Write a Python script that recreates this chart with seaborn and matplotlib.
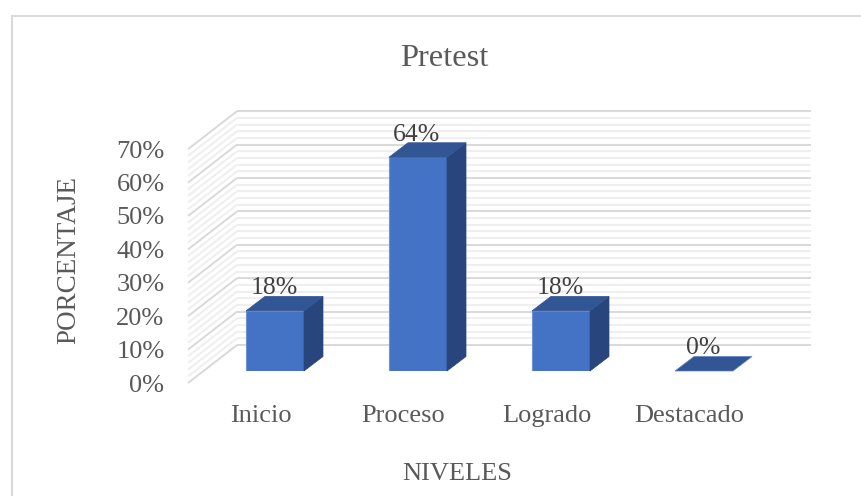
import matplotlib
matplotlib.use("Agg")
import matplotlib.pyplot as plt
from matplotlib.patches import Polygon, Rectangle
import pandas as pd
import seaborn as sns

categories = ["Inicio", "Proceso", "Logrado", "Destacado"]
values = [18, 64, 18, 0]
value_labels = ["18%", "64%", "18%", "0%"]
y_ticks = [0, 10, 20, 30, 40, 50, 60, 70]
minor_ticks = [v for v in range(0, 71, 2)]
title = "Pretest"
x_label = "NIVELES"
y_label = "PORCENTAJE"

W, H = 861, 496
FRONT, SIDE, TOP = "#4472C4", "#28457D", "#325594"
TXT = "#404040"
GREY = "#595959"
FS = 19
sns.set_theme(style="white")
plt.rcParams["font.family"] = ["Liberation Serif", "DejaVu Serif"]

fig = plt.figure(figsize=(W / 100, H / 100), dpi=100, facecolor="white")
L, R, B, T = 203.5, 775.5, 371, 137.2
ax = fig.add_axes([L / W, 1 - B / H, (R - L) / W, (B - T) / H])
df = pd.DataFrame({"n": categories, "v": values})

sx, sy = 143.0, 233.8 / 70          # pixels per category and per percent
def px(dx, dy):
    return dx / sx, dy / sy

# walls: back plane and left side, behind the bars
back = px(33.5, 26)
front = px(-15.5, -12)
for v in minor_ticks:
    major = v % 10 == 0
    col, lw, z = ("#D9D9D9", 1.4, 1.2) if major else ("#EFEFEF", 1.5, 1.1)
    ax.plot([-0.5 + back[0], 3.5 + back[0] + 2 / sx], [v + back[1]] * 2, color=col, lw=lw, zorder=z, clip_on=False, solid_capstyle="butt")
    ax.plot([-0.5 + front[0], -0.5 + back[0]], [v + front[1], v + back[1]], color=col, lw=lw, zorder=z, clip_on=False, solid_capstyle="butt")

sns.barplot(data=df, x="n", y="v", color=FRONT, saturation=1, width=58 / 143, ax=ax, zorder=3,
            edgecolor="#6F93D6", linewidth=0.8)
ax.set_xlim(-0.5, 3.5)
ax.set_ylim(0, 70)
ax.patch.set_alpha(0)
sns.despine(ax=ax, left=True, bottom=True)
ax.set_xlabel("")
ax.set_ylabel("")
ax.set_yticks([])
ax.set_xticks([])

hw = 29 / 143
d = px(19, 14.5)
for i, (v, lab) in enumerate(zip(values, value_labels)):
    l, r = i - hw, i + hw
    if v > 0:
        ax.add_patch(Polygon([(r, 0), (r + d[0], d[1]), (r + d[0], v + d[1]), (r, v)], fc=SIDE, ec=SIDE, lw=0.5, zorder=3, clip_on=False))
    ax.add_patch(Polygon([(l, v), (r, v), (r + d[0], v + d[1]), (l + d[0], v + d[1])], fc=TOP, ec=TOP if v else "#5B80C8", lw=0.5, zorder=4, clip_on=False))
    ax.text(i - 1 / sx, v + 22.5 / sy, lab, ha="center", va="center", fontsize=FS - 0.5, color=TXT, zorder=5, clip_on=False)

# axis tick labels in pixel-aligned positions
for v in y_ticks:
    ax.text(-0.5 + (164.5 - L) / sx, v + (371 - 385.5) / sy, f"{v}%", ha="right", va="center", fontsize=FS, color=GREY, clip_on=False)
for i, c in enumerate(categories):
    ax.text(i - 14.5 / sx, -(416 - 371) / sy, c, ha="center", va="center", fontsize=FS, color=GREY, clip_on=False)

fig.text(444 / W, 1 - 59 / H, title, ha="center", va="center", fontsize=23.4, color=GREY)
fig.text(457 / W, 1 - 474 / H, x_label, ha="center", va="center", fontsize=FS, color=GREY)
fig.text(69 / W, 1 - 260 / H, y_label, rotation=90, ha="center", va="center", fontsize=FS + 0.5, color=GREY)

# chart-area frame
fig.add_artist(Rectangle((12 / W, -0.02), 1, 1 - 15.5 / H + 0.02, transform=fig.transFigure, fc="none", ec="#D9D9D9", lw=1.4))
fig.savefig("out.png", dpi=100)
